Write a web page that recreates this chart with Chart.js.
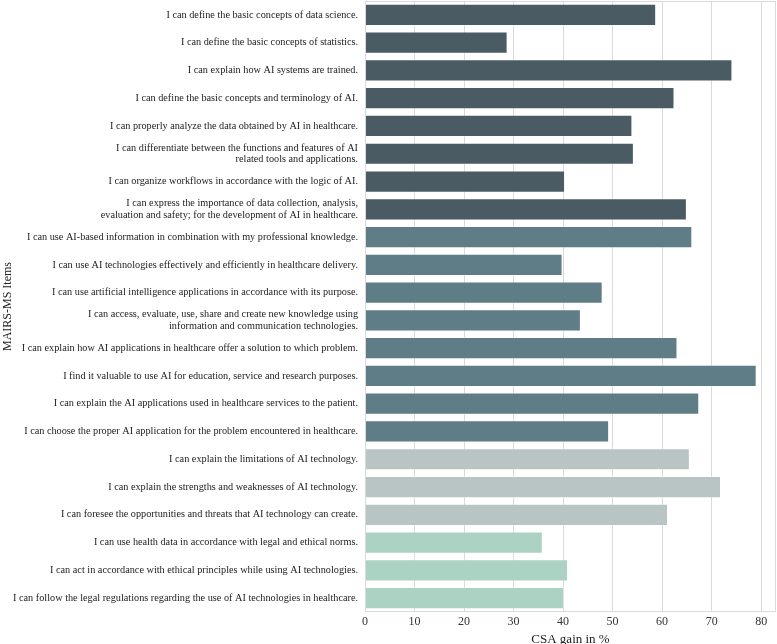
<!DOCTYPE html>
<html>
<head>
<meta charset="utf-8">
<script src="https://cdn.jsdelivr.net/npm/chart.js@4/dist/chart.umd.min.js"></script>
<style>
  html, body { margin: 0; padding: 0; background: #fff; }
  #wrap { width: 777px; height: 644px; }
</style>
</head>
<body>
<div id="wrap"><canvas id="chart" width="777" height="644"></canvas></div>
<script>
//-----------------------------------------------------------------------------
// Data
//-----------------------------------------------------------------------------

var items = [
  'I can define the basic concepts of data science.',
  'I can define the basic concepts of statistics.',
  'I can explain how AI systems are trained.',
  'I can define the basic concepts and terminology of AI.',
  'I can properly analyze the data obtained by AI in healthcare.',
  ['I can differentiate between the functions and features of AI', 'related tools and applications.'],
  'I can organize workflows in accordance with the logic of AI.',
  ['I can express the importance of data collection, analysis,', 'evaluation and safety; for the development of AI in healthcare.'],
  'I can use AI-based information in combination with my professional knowledge.',
  'I can use AI technologies effectively and efficiently in healthcare delivery.',
  'I can use artificial intelligence applications in accordance with its purpose.',
  ['I can access, evaluate, use, share and create new knowledge using', 'information and communication technologies.'],
  'I can explain how AI applications in healthcare offer a solution to which problem.',
  'I find it valuable to use AI for education, service and research purposes.',
  'I can explain the AI applications used in healthcare services to the patient.',
  'I can choose the proper AI application for the problem encountered in healthcare.',
  'I can explain the limitations of AI technology.',
  'I can explain the strengths and weaknesses of AI technology.',
  'I can foresee the opportunities and threats that AI technology can create.',
  'I can use health data in accordance with legal and ethical norms.',
  'I can act in accordance with ethical principles while using AI technologies.',
  'I can follow the legal regulations regarding the use of AI technologies in healthcare.'
];

// CSA gain in %
var gains = [
  58.8, 28.8, 74.2, 62.5, 54.0, 54.3, 40.4, 65.0,
  66.1, 39.9, 48.0, 43.6, 63.1, 79.1, 67.5, 49.3,
  65.6, 71.9, 61.2,
  35.9, 41.0, 40.2
];

// factor group of each item (index into groupColors)
var groups = [
  0, 0, 0, 0, 0, 0, 0, 0,
  1, 1, 1, 1, 1, 1, 1, 1,
  2, 2, 2,
  3, 3, 3
];

var groupColors = ['#4b5b64', '#5f7d86', '#b8c5c4', '#acd2c4'];

var xTicks = [0, 10, 20, 30, 40, 50, 60, 70, 80];

//-----------------------------------------------------------------------------
// Chart
//-----------------------------------------------------------------------------

var FONT = '"Liberation Serif", "DejaVu Serif", serif';
var GRID = '#dadada';

// draws the light box round the plot area
var frame = {
  id: 'frame',
  afterDraw: function(chart) {
    var a = chart.chartArea, ctx = chart.ctx;
    ctx.save();
    ctx.strokeStyle = GRID;
    ctx.lineWidth = 1;
    ctx.strokeRect(Math.round(a.left) + 0.5, Math.round(a.top) + 0.5,
                   Math.round(a.right - a.left) - 1, Math.round(a.bottom - a.top) - 1);
    ctx.restore();
  }
};

var barColors = groups.map(function(g) { return groupColors[g]; });

new Chart(document.getElementById('chart'), {
  type: 'bar',
  data: {
    labels: items,
    datasets: [{
      data: gains,
      backgroundColor: barColors,
      borderColor: 'rgba(255,255,255,0.35)',
      borderWidth: 1,
      barPercentage: 0.8,
      categoryPercentage: 1.0
    }]
  },
  options: {
    indexAxis: 'y',
    responsive: false,
    animation: false,
    layout: { padding: { top: 1, right: 1, bottom: 0, left: 0 } },
    plugins: {
      legend: { display: false },
      tooltip: { enabled: false }
    },
    scales: {
      x: {
        type: 'linear',
        min: 0,
        max: 83,
        afterBuildTicks: function(scale) {
          scale.ticks = xTicks.map(function(v) { return { value: v }; });
        },
        afterFit: function(scale) {
          scale.height = 32;
          scale.paddingLeft = 0;
          scale.paddingRight = 0;
        },
        grid: { color: GRID, drawTicks: false },
        border: { display: false },
        ticks: {
          padding: 3,
          color: '#333',
          font: { family: FONT, size: 12 }
        },
        title: {
          display: true,
          text: 'CSA gain in %',
          color: '#222',
          padding: { top: 0, bottom: -3.5 },
          font: { family: FONT, size: 13 }
        }
      },
      y: {
        afterFit: function(scale) {
          scale.width = 365;
          scale.paddingTop = 0;
          scale.paddingBottom = 0;
        },
        grid: { display: false, drawTicks: false },
        border: { display: false },
        ticks: {
          autoSkip: false,
          padding: 7,
          color: '#222',
          font: { family: FONT, size: 10.25, lineHeight: 1.1 }
        },
        title: {
          display: true,
          text: 'MAIRS-MS Items',
          color: '#222',
          padding: { top: 1, bottom: 0 },
          font: { family: FONT, size: 12 }
        }
      }
    }
  },
  plugins: [frame]
});
</script>
</body>
</html>
